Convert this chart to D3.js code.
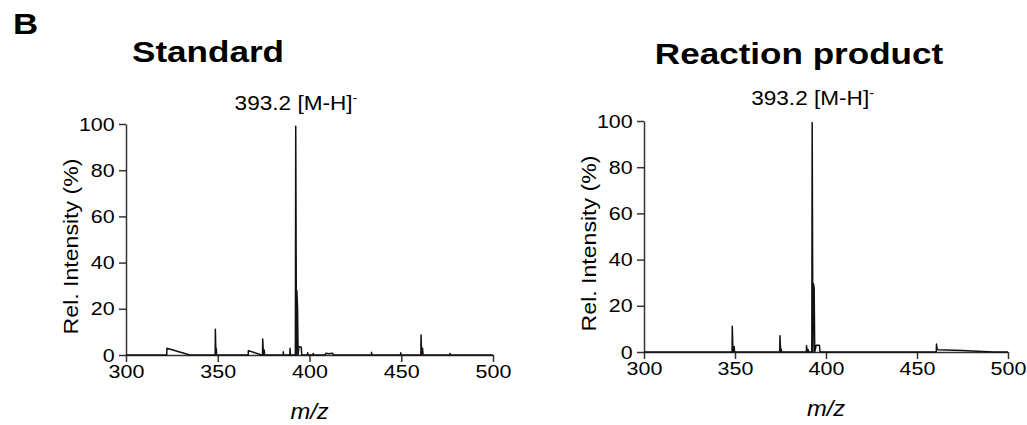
<!DOCTYPE html>
<html>
<head>
<meta charset="utf-8">
<script src="https://cdn.jsdelivr.net/npm/d3@7"></script>
<style>
  body { margin: 0; background: #fff; }
  svg { display: block; }
  text { font-family: Arial, "Liberation Sans", sans-serif; fill: #000; }
</style>
</head>
<body>
<script>
// spectra: [m/z, rel. intensity %]
var standardSpectrum = [
  [300, 0], [322.2, 0], [322.3, 2.9], [334.9, 0],
  [348.6, 0], [348.7, 11.1], [349.0, 0], [349.2, 2.9], [349.4, 0],
  [366.6, 0], [366.7, 1.9], [373.9, 0],
  [374.4, 0], [374.5, 6.9], [374.9, 0], [375.3, 2.2], [375.6, 0],
  [385.6, 0], [385.7, 1.4], [385.9, 0],
  [389.3, 0], [389.4, 2.9], [389.6, 0],
  [392.3, 0], [392.5, 99], [392.9, 0], [393.1, 27.9], [393.5, 20], [393.8, 0],
  [394.2, 3.6], [395.5, 3.4], [395.8, 0],
  [398.9, 0], [399.0, 1.0], [399.2, 0],
  [401.9, 0], [402.0, 0.7], [402.2, 0],
  [408.5, 0], [409.0, 0.8], [410.5, 0.5], [412.5, 0.8], [413.2, 0],
  [433.7, 0], [433.8, 1.2], [434.0, 0],
  [449.6, 0], [449.7, 1.0], [449.9, 0],
  [460.7, 0], [460.8, 8.7], [461.1, 0], [461.6, 2.9], [461.9, 0],
  [476.5, 0], [476.6, 0.7], [476.8, 0],
  [500, 0]
];

var reactionSpectrum = [
  [300, 0],
  [348.4, 0], [348.5, 11.1], [348.9, 0], [349.5, 2.4], [349.8, 0],
  [374.6, 0], [374.7, 7.0], [375.1, 0], [375.4, 1.3], [375.6, 0],
  [389.2, 0], [389.3, 2.7], [389.8, 0], [390.2, 1.0], [390.4, 0],
  [392.2, 0], [392.4, 99.3], [392.8, 0], [393.1, 29.5], [393.5, 27.6], [393.8, 0],
  [394.6, 2.9], [396.4, 2.9], [396.7, 0],
  [460.6, 0], [460.7, 3.5], [461.1, 1.2], [461.6, 1.0], [475, 0.6], [492, 0],
  [500, 0]
];

var xDomain = [300, 500];
var yDomain = [0, 100];
var xTicks = [300, 350, 400, 450, 500];
var yTicks = [0, 20, 40, 60, 80, 100];
var panelTitles = ['Standard', 'Reaction product'];
var peakLabel = '393.2 [M-H]';
var peakMz = 393.2;

var width = 1027, height = 425;
var svg = d3.select('body').append('svg').attr('width', width).attr('height', height);

// the figure's type runs a little wider than Arial, so stretch it horizontally
function addText(parent, x, y, str, size, opts) {
  opts = opts || {};
  var sx = opts.sx || 1.13;
  var g = parent.append('g').attr('transform', 'translate(' + x + ',' + y + ')' + (opts.rotate ? ' rotate(' + opts.rotate + ')' : ''));
  var t = g.append('text')
    .attr('transform', 'scale(' + sx + ',1)')
    .attr('text-anchor', opts.anchor || 'middle')
    .style('font-size', size + 'px')
    .style('font-weight', opts.bold ? 'bold' : 'normal')
    .style('font-style', opts.italic ? 'italic' : 'normal')
    .text(str);
  return t;
}

addText(svg, 13, 34, 'B', 29, {bold: true, sx: 1.2, anchor: 'start'});

var panels = [
  {data: standardSpectrum, x0: 126, x1: 493, yTop: 124, yBottom: 355, titleX: 208, titleY: 62, labelY: 110},
  {data: reactionSpectrum, x0: 644, x1: 1008, yTop: 121, yBottom: 352, titleX: 799, titleY: 64, labelY: 105}
];

panels.forEach(function(p, i) {
  var x = d3.scaleLinear().domain(xDomain).range([p.x0, p.x1]);
  var y = d3.scaleLinear().domain(yDomain).range([p.yBottom, p.yTop]);
  var g = svg.append('g');

  addText(g, p.titleX, p.titleY, panelTitles[i], 30, {bold: true, sx: 1.17});

  var lab = addText(g, x(peakMz) - 1, p.labelY, peakLabel, 20);
  lab.append('tspan').attr('dy', -8).style('font-size', '13px').text('-');

  var xAxis = d3.axisBottom(x).tickValues(xTicks).tickSize(7).tickSizeOuter(0).tickPadding(3);
  var yAxis = d3.axisLeft(y).tickValues(yTicks).tickSize(7).tickSizeOuter(0).tickPadding(3);

  var ya = g.append('g').attr('transform', 'translate(' + p.x0 + ',0)').call(yAxis);
  var xa = g.append('g').attr('transform', 'translate(0,' + p.yBottom + ')').call(xAxis);
  [xa, ya].forEach(function(a) {
    a.select('.domain').attr('stroke', '#333').attr('stroke-width', 1.5);
    a.selectAll('.tick line').attr('stroke', '#333').attr('stroke-width', 1.5);
    a.selectAll('.tick text')
      .style('font-family', 'Arial, "Liberation Sans", sans-serif')
      .style('font-size', '19px')
      .attr('fill', '#000')
      .attr('transform', 'scale(1.13,1)');
  });

  var line = d3.line()
    .x(function(d) { return x(d[0]); })
    .y(function(d) { return y(d[1]); });

  g.append('path')
    .datum(p.data)
    .attr('d', line)
    .attr('fill', 'none')
    .attr('stroke', '#111')
    .attr('stroke-width', 1.5)
    .attr('stroke-linejoin', 'round');

  addText(g, p.x0 - 48, (p.yTop + p.yBottom) / 2 + 7, 'Rel. Intensity (%)', 21, {rotate: -90, sx: 1.1});
  addText(g, (p.x0 + p.x1) / 2, p.yBottom + 64, 'm/z', 22, {italic: true, sx: 1.08});
});
</script>
</body>
</html>
